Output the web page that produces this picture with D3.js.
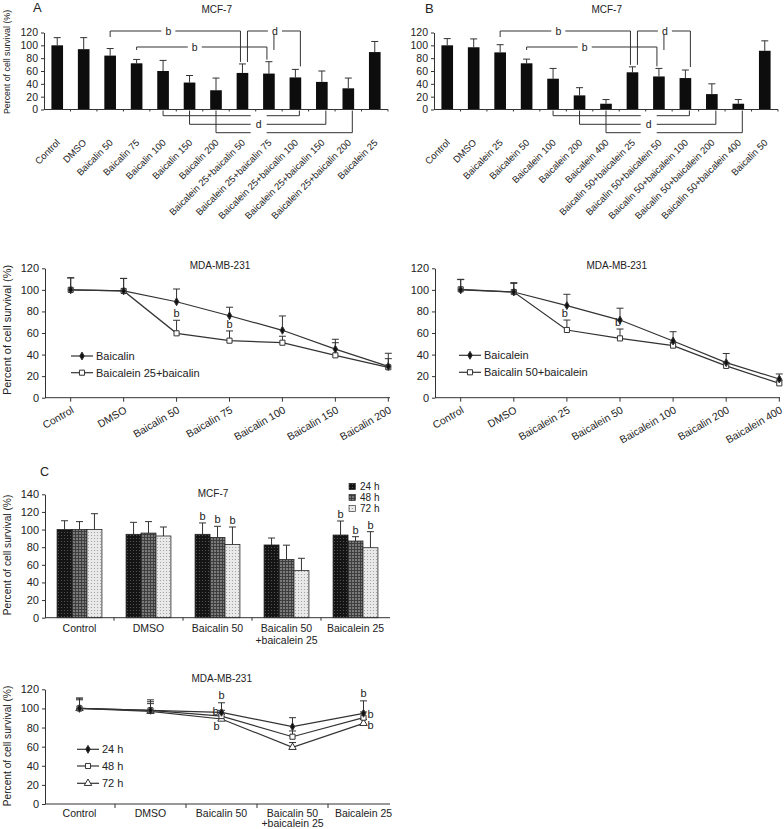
<!DOCTYPE html>
<html>
<head>
<meta charset="utf-8">
<script src="https://cdn.jsdelivr.net/npm/d3@7"></script>
<style>
body{margin:0;background:#fff;}
svg text{font-family:"Liberation Sans",Arial,sans-serif;fill:#222;}
</style>
</head>
<body>
<div id="fig"></div>
<script>
// ---- A / B top: MCF-7 bars ----
var aCats = ["Control","DMSO","Baicalin 50","Baicalin 75","Baicalin 100","Baicalin 150","Baicalin 200",
  "Baicalein 25+baicalin 50","Baicalein 25+baicalin 75","Baicalein 25+baicalin 100","Baicalein 25+baicalin 150","Baicalein 25+baicalin 200","Baicalein 25"];
var aMeans = [100, 94, 84, 72, 60, 42, 30, 57, 56, 50, 43, 33, 89.5];
var aSD = [12, 18, 11, 6, 16.5, 11, 19, 14, 18.5, 12.5, 17, 16, 16.5];

var bCats = ["Control","DMSO","Baicalein 25","Baicalein 50","Baicalein 100","Baicalein 200","Baicalein 400",
  "Baicalin 50+baicalein 25","Baicalin 50+baicalein 50","Baicalin 50+baicalein 100","Baicalin 50+baicalein 200","Baicalin 50+baicalein 400","Baicalin 50"];
var bMeans = [100, 97, 89, 72, 48, 22, 9, 58, 51.5, 49, 24, 9, 91.5];
var bSD = [10.5, 13, 12, 6.5, 16, 12, 6.5, 8.5, 12.5, 12.5, 16, 6.5, 15.5];

var bracketsUp = [{legs:[2,7], label:"b", row:0}, {legs:[3,8], label:"b", row:1}, {legs:[7,8,9], label:"d", row:0}];
var bracketsDown = [[4,9],[5,10],[6,11]];

// ---- A / B bottom: MDA-MB-231 lines ----
var aLineCats = ["Control","DMSO","Baicalin 50","Baicalin 75","Baicalin 100","Baicalin 150","Baicalin 200"];
var aBaicalin = [100, 99, 89, 76, 62.5, 45, 29];
var aBaicalinSD = [11.3, 11.7, 11.8, 7.9, 13.3, 9.2, 12.2];
var aCombo = [100, 99, 59.7, 52.9, 51, 39.3, 28.2];
var aComboSD = [11, 11.5, 12.1, 9, 6, 11.7, 8];
var aLineSig = [2, 3];

var bLineCats = ["Control","DMSO","Baicalein 25","Baicalein 50","Baicalein 100","Baicalin 200","Baicalein 400"];
var bBaicalein = [100, 98, 85.4, 72, 52.6, 32.5, 17.3];
var bBaicaleinSD = [9.8, 8.7, 10.5, 11, 8.6, 8.5, 4.7];
var bCombo = [100.5, 98, 62.8, 55, 48.3, 29.5, 13.3];
var bComboSD = [9, 8, 9.2, 8.7, 3, 3, 3];
var bLineSig = [2, 3];

// ---- C ----
var cCats = ["Control","DMSO","Baicalin 50","Baicalin 50 +baicalein 25","Baicalein 25"];
var cTimes = ["24 h","48 h","72 h"];
var c24 = [100, 94.6, 94.6, 82.5, 93.8];
var c24SD = [10, 13.6, 12.9, 7.9, 15.9];
var c48 = [100, 96, 91, 66, 87];
var c48SD = [9, 13, 12.7, 16.3, 4.9];
var c72 = [100, 92.7, 83, 53.4, 79.4];
var c72SD = [18, 10.2, 19.9, 14, 18.2];
var cSig = [2, 4];

var cl24 = [100, 98, 95.9, 80.9, 94.9];
var cl24SD = [11, 11, 10, 9.4, 13];
var cl48 = [100, 98, 92, 70.4, 90.3];
var cl48SD = [10, 9, 6, 6, 6];
var cl72 = [100, 97, 88.9, 59.3, 84.4];
var cl72SD = [9, 8, 5, 5, 4];
var clSig = [2, 4];

var yTicks = [0,20,40,60,80,100,120];
var ink = "#333";

var svg = d3.select("#fig").append("svg").attr("width",784).attr("height",829);

function styleAxis(g, fs){
  g.attr("font-family", null).attr("font-size", null);
  g.selectAll("path,line").attr("stroke", ink);
  g.selectAll("text").attr("font-size", fs);
}

function txt(x, y, s, fs, anchor){
  return svg.append("text").attr("x",x).attr("y",y).attr("font-size",fs)
    .attr("text-anchor",anchor||"middle").text(s);
}

function yLabel(cy, fs){
  svg.append("text").attr("transform","translate(11,"+cy+") rotate(-90)")
    .attr("text-anchor","middle").attr("font-size",fs).text("Percent of cell survival (%)");
}

function errPath(cx, y0, y1, w){
  return "M"+cx+","+y0+"V"+y1+"M"+(cx-w)+","+y1+"H"+(cx+w);
}

// ---------- top bar charts ----------
var yTop = d3.scaleLinear().domain([0,120]).range([109.5,32.5]);

function topBars(left, right, cats, means, sds){
  var g = svg.append("g");
  var x = d3.scaleBand().domain(d3.range(cats.length)).range([left,right]).paddingInner(0.56).paddingOuter(0.28);
  var cx = function(i){ return x(i) + x.bandwidth()/2; };

  g.selectAll("path.err").data(means).enter().append("path")
    .attr("d", function(d,i){ return errPath(cx(i), yTop(d), yTop(d+sds[i]), 3.5); })
    .attr("stroke", ink).attr("fill","none");

  g.selectAll("rect.bar").data(means).enter().append("rect")
    .attr("x", function(d,i){ return x(i); })
    .attr("y", function(d){ return yTop(d); })
    .attr("width", x.bandwidth())
    .attr("height", function(d){ return yTop(0) - yTop(d); })
    .attr("fill", "#0d0d0d");

  g.append("g").attr("transform","translate("+left+",0)")
    .call(d3.axisLeft(yTop).tickValues(yTicks).tickSize(3).tickSizeOuter(0))
    .call(styleAxis, 10.5);

  g.append("line").attr("x1",left).attr("x2",right).attr("y1",yTop(0)).attr("y2",yTop(0)).attr("stroke",ink);
  g.selectAll("line.bt").data(d3.range(1,cats.length+1)).enter().append("line")
    .attr("x1", function(i){ return left + i*x.step(); })
    .attr("x2", function(i){ return left + i*x.step(); })
    .attr("y1", yTop(0)).attr("y2", yTop(0)+2).attr("stroke", ink);

  g.selectAll("text.xl").data(cats).enter().append("text")
    .attr("transform", function(d,i){ return "translate("+(cx(i)+1)+",141) rotate(-45)"; })
    .attr("text-anchor","end").attr("dy","0.35em").attr("font-size",9.5).text(function(d){ return d; });

  // significance brackets above
  var rows = [31, 47];
  bracketsUp.forEach(function(b){
    var ly = rows[b.row];
    var legs = b.legs;
    var xs, bottoms;
    if (b.label === "b") {
      xs = [cx(legs[0]), cx(legs[1]) - 2];
      bottoms = [ly + (b.row === 0 ? 6 : 3), yTop(means[legs[1]] + sds[legs[1]]) - 2];
    } else {
      xs = legs.map(function(i){ return cx(i) + 5; });
      bottoms = [yTop(means[legs[0]] + sds[legs[0]]) - 2, ly + 19, yTop(means[legs[2]] + sds[legs[2]]) - 3];
    }
    g.append("line").attr("x1",xs[0]).attr("x2",xs[xs.length-1]).attr("y1",ly).attr("y2",ly).attr("stroke",ink);
    xs.forEach(function(xx,k){
      g.append("line").attr("x1",xx).attr("x2",xx).attr("y1",ly).attr("y2",bottoms[k]).attr("stroke",ink);
    });
    var lx = b.label === "b" ? (xs[0]+xs[1])/2 - 7 : (xs[0]+xs[2])/2 + 1;
    g.append("rect").attr("x",lx-7).attr("y",ly-9).attr("width",14).attr("height",12).attr("fill","#fff");
    g.append("text").attr("x",lx).attr("y",ly+3.5).attr("text-anchor","middle").attr("font-size",10.5).text(b.label);
  });

  // significance brackets below
  var downRows = [115.7, 124.3, 132.7];
  bracketsDown.forEach(function(p,k){
    var x0 = cx(p[0]), x1 = cx(p[1]) + 4, ly = downRows[k];
    g.append("path").attr("d","M"+x0+","+(yTop(0)+1)+"V"+ly+"H"+x1+"V"+(yTop(0)+1))
      .attr("fill","none").attr("stroke",ink);
  });
  var mid = (cx(bracketsDown[1][0]) + cx(bracketsDown[1][1]))/2 + 3;
  g.append("rect").attr("x",mid-8).attr("y",113).attr("width",16).attr("height",22).attr("fill","#fff");
  g.append("text").attr("x",mid).attr("y",downRows[1]+3.5).attr("text-anchor","middle").attr("font-size",10.5).text("d");
}

topBars(44, 388, aCats, aMeans, aSD);
topBars(434, 778, bCats, bMeans, bSD);
txt(216.7, 13, "MCF-7", 10);
txt(606.7, 13, "MCF-7", 10);
txt(33, 12, "A", 13, "start");
txt(425, 13, "B", 13, "start");
svg.append("text").attr("transform","translate(10,62) rotate(-90)")
  .attr("text-anchor","middle").attr("font-size",8.8).text("Percent of cell survival (%)");

// ---------- line charts ----------
var symDiamond = d3.symbol(d3.symbolDiamond, 18);
var symSquare = d3.symbol(d3.symbolSquare, 26);
var symTriangle = d3.symbol(d3.symbolTriangle, 24);

function lineChart(opts){
  var g = svg.append("g");
  var y = opts.y;
  var px = function(i){ return opts.pos(i); };

  g.append("g").attr("transform","translate("+opts.left+",0)")
    .call(d3.axisLeft(y).tickValues(yTicks).tickSize(3).tickSizeOuter(0))
    .call(styleAxis, opts.tickFs);
  g.append("line").attr("x1",opts.left).attr("x2",opts.right).attr("y1",y(0)).attr("y2",y(0)).attr("stroke",ink);
  g.selectAll("line.xt").data(opts.tickXs).enter().append("line")
    .attr("x1",function(d){return d;}).attr("x2",function(d){return d;})
    .attr("y1",y(0)).attr("y2",y(0)+4).attr("stroke",ink);

  // error bars (up only)
  opts.series.forEach(function(s){
    g.selectAll(null).data(s.vals).enter().append("path")
      .attr("d", function(d,i){ return errPath(px(i), y(d), y(d+s.sd[i]), 3.5); })
      .attr("stroke", ink).attr("fill","none");
  });
  var line = d3.line().x(function(d,i){ return px(i); }).y(function(d){ return y(d); });
  opts.series.forEach(function(s){
    g.append("path").attr("d", line(s.vals)).attr("fill","none").attr("stroke",ink).attr("stroke-width",1.2);
  });
  opts.series.slice().reverse().forEach(function(s){
    g.selectAll(null).data(s.vals).enter().append("path")
      .attr("transform", function(d,i){ return "translate("+px(i)+","+y(d)+")"; })
      .attr("d", s.sym).attr("fill", s.fill).attr("stroke", ink).attr("stroke-width",1);
  });

  // legend
  opts.series.forEach(function(s,k){
    var ly = opts.legY[k];
    g.append("line").attr("x1",opts.legX).attr("x2",opts.legX+22).attr("y1",ly).attr("y2",ly).attr("stroke",ink).attr("stroke-width",1.2);
    g.append("path").attr("transform","translate("+(opts.legX+11)+","+ly+")").attr("d",s.sym)
      .attr("fill",s.fill).attr("stroke",ink);
    g.append("text").attr("x",opts.legX+25).attr("y",ly+4).attr("font-size",opts.legFs).text(s.name);
  });
  return g;
}

var yLine = d3.scaleLinear().domain([0,120]).range([397.7,268.3]);

function rotatedLabels(g, cats, x){
  g.selectAll(null).data(cats).enter().append("text")
    .attr("transform", function(d){ return "translate("+(x(d)+2)+",409) rotate(-30)"; })
    .attr("text-anchor","end").attr("dy","0.35em").attr("font-size",10.5).text(function(d){ return d; });
}

var xA = d3.scalePoint().domain(aLineCats).range([70.7, 388.3]);
var gA = lineChart({
  y: yLine, left: 45, right: 390, tickFs: 11,
  pos: function(i){ return xA(aLineCats[i]); },
  tickXs: aLineCats.map(function(c){ return xA(c); }),
  series: [
    {name:"Baicalin", vals:aBaicalin, sd:aBaicalinSD, sym:symDiamond, fill:"#111"},
    {name:"Baicalein 25+baicalin", vals:aCombo, sd:aComboSD, sym:symSquare, fill:"#fff"}
  ],
  legX: 71, legY: [356, 372.7], legFs: 11
});
rotatedLabels(gA, aLineCats, xA);
aLineSig.forEach(function(i){
  txt(xA(aLineCats[i]), yLine(aCombo[i]+aComboSD[i]) - 3, "b", 11);
});

var xB = d3.scalePoint().domain(bLineCats).range([460.7, 779.3]);
var gB = lineChart({
  y: yLine, left: 435, right: 780, tickFs: 11,
  pos: function(i){ return xB(bLineCats[i]); },
  tickXs: bLineCats.map(function(c){ return xB(c); }),
  series: [
    {name:"Baicalein", vals:bBaicalein, sd:bBaicaleinSD, sym:symDiamond, fill:"#111"},
    {name:"Baicalin 50+baicalein", vals:bCombo, sd:bComboSD, sym:symSquare, fill:"#fff"}
  ],
  legX: 459, legY: [355.3, 372.3], legFs: 11
});
rotatedLabels(gB, bLineCats, xB);
bLineSig.forEach(function(i){
  txt(xB(bLineCats[i]) - 2, yLine(bCombo[i]+bComboSD[i]) - 3, "b", 11);
});
txt(220, 268.5, "MDA-MB-231", 10);
txt(616.7, 268.5, "MDA-MB-231", 10);
yLabel(330, 11);

// ---------- C bars ----------
var defs = svg.append("defs");
var p24 = defs.append("pattern").attr("id","p24").attr("width",3).attr("height",3).attr("patternUnits","userSpaceOnUse");
p24.append("rect").attr("width",3).attr("height",3).attr("fill","#141414");
p24.append("circle").attr("cx",1.5).attr("cy",1.5).attr("r",0.6).attr("fill","#5a5a5a");
var p48 = defs.append("pattern").attr("id","p48").attr("width",3).attr("height",3).attr("patternUnits","userSpaceOnUse");
p48.append("rect").attr("width",3).attr("height",3).attr("fill","#7a7a7a");
p48.append("path").attr("d","M0,0.5H3M0.5,0V3").attr("stroke","#3a3a3a").attr("stroke-width",0.9);
var p72 = defs.append("pattern").attr("id","p72").attr("width",3).attr("height",3).attr("patternUnits","userSpaceOnUse");
p72.append("rect").attr("width",3).attr("height",3).attr("fill","#e9e9e9");
p72.append("circle").attr("cx",1.5).attr("cy",1.5).attr("r",0.6).attr("fill","#9a9a9a");
var cFills = ["url(#p24)","url(#p48)","url(#p72)"];

var yC = d3.scaleLinear().domain([0,140]).range([617.7,494.3]);
var xC = d3.scaleBand().domain(cCats).range([45,390]).paddingInner(0.35).paddingOuter(0.175);
var xSub = d3.scaleBand().domain([0,1,2]).range([0, xC.bandwidth()]);
var cSeries = [{v:c24, sd:c24SD}, {v:c48, sd:c48SD}, {v:c72, sd:c72SD}];

var gC = svg.append("g");
cSeries.forEach(function(s,k){
  gC.selectAll(null).data(s.v).enter().append("path")
    .attr("d", function(d,i){ var c = xC(cCats[i]) + xSub(k) + xSub.bandwidth()/2; return errPath(c, yC(d), yC(d+s.sd[i]), 3.5); })
    .attr("stroke", ink).attr("fill","none");
  gC.selectAll(null).data(s.v).enter().append("rect")
    .attr("x", function(d,i){ return xC(cCats[i]) + xSub(k); })
    .attr("y", function(d){ return yC(d); })
    .attr("width", xSub.bandwidth())
    .attr("height", function(d){ return yC(0) - yC(d); })
    .attr("fill", cFills[k]).attr("stroke", "#222").attr("stroke-width", 0.8);
  cSig.forEach(function(i){
    var c = xC(cCats[i]) + xSub(k) + xSub.bandwidth()/2;
    txt(c, yC(s.v[i]+s.sd[i]) - 3, "b", 11);
  });
});
gC.append("g").attr("transform","translate(45,0)")
  .call(d3.axisLeft(yC).tickValues(d3.range(0,141,20)).tickSize(3).tickSizeOuter(0))
  .call(styleAxis, 11);
gC.append("line").attr("x1",45).attr("x2",390).attr("y1",yC(0)).attr("y2",yC(0)).attr("stroke",ink);
gC.selectAll(null).data(d3.range(1,5)).enter().append("line")
  .attr("x1",function(i){ return 45 + i*xC.step(); }).attr("x2",function(i){ return 45 + i*xC.step(); })
  .attr("y1",yC(0)).attr("y2",yC(0)+3).attr("stroke",ink);

function twoLineLabels(g, cats, cxf, y0, gap){
  cats.forEach(function(c){
    var parts = c.split(" +");
    var t = g.append("text").attr("x", cxf(c)).attr("y", y0).attr("text-anchor","middle").attr("font-size",10.5);
    t.append("tspan").attr("x", cxf(c)).text(parts[0]);
    if (parts.length > 1) t.append("tspan").attr("x", cxf(c)).attr("dy", gap).text("+" + parts[1]);
  });
}
twoLineLabels(gC, cCats, function(c){ return xC(c) + xC.bandwidth()/2; }, 632, 11.5);

cTimes.forEach(function(t,k){
  var ly = [486.5, 497.5, 508.5][k];
  gC.append("rect").attr("x",349).attr("y",ly-3.2).attr("width",6.4).attr("height",6.4)
    .attr("fill",cFills[k]).attr("stroke","#222").attr("stroke-width",0.6);
  gC.append("text").attr("x",360).attr("y",ly+3.6).attr("font-size",10).text(t);
});
txt(213, 497, "MCF-7", 10);
txt(40, 476, "C", 12.5, "start");
yLabel(555, 10.2);

// ---------- C line ----------
var yCL = d3.scaleLinear().domain([0,120]).range([804,689.3]);
var xCL = d3.scaleBand().domain(cCats).range([44,399]);
var clx = function(c){ return xCL(c) + xCL.bandwidth()/2; };
var gCL = lineChart({
  y: yCL, left: 45, right: 390, tickFs: 11,
  pos: function(i){ return clx(cCats[i]); },
  tickXs: d3.range(1,5).map(function(i){ return 44 + i*xCL.step(); }),
  series: [
    {name:"24 h", vals:cl24, sd:cl24SD, sym:symDiamond, fill:"#111"},
    {name:"48 h", vals:cl48, sd:cl48SD, sym:symSquare, fill:"#fff"},
    {name:"72 h", vals:cl72, sd:cl72SD, sym:symTriangle, fill:"#fff"}
  ],
  legX: 77, legY: [749.3, 766, 783.3], legFs: 11
});
twoLineLabels(gCL, cCats, clx, 816.5, 10.5);
// "b" marks beside the points
clSig.forEach(function(i){
  var c = clx(cCats[i]);
  txt(c, yCL(cl24[i]+cl24SD[i]) - 4, "b", 11);
  if (i === 2) {
    txt(c - 3, yCL(cl48[i]) - 1, "b", 11, "end");
    txt(c - 5, yCL(cl72[i]) + 11, "b", 11);
  } else {
    txt(c + 4, yCL(cl48[i]), "b", 11, "start");
    txt(c + 4, yCL(cl72[i]) + 6, "b", 11, "start");
  }
});
txt(221.7, 682, "MDA-MB-231", 10);
yLabel(746, 10.2);
</script>
</body>
</html>
